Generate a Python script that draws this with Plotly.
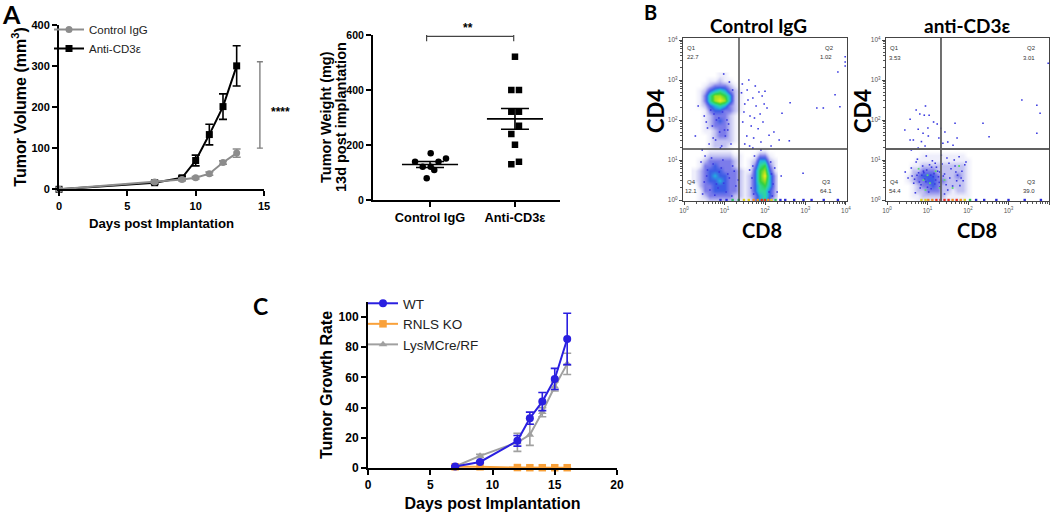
import numpy as np
import plotly.graph_objects as go

W, H = 1050, 512

# ---------- Panel A, growth curves ----------
a_days = [0, 7, 9, 10, 11, 12, 13]
a_ctrl = [0, 18, 24, 28, 38, 65, 88]
a_ctrl_err = [0, 3, 3, 3, 4, 4, 10]
a_anti = [0, 16, 28, 70, 133, 201, 300]
a_anti_err = [0, 3, 4, 13, 25, 31, 49]

# ---------- Panel A, tumor weight ----------
w_labels = ["Control IgG", "Anti-CD3\u03b5"]
w_ctrl_x = [0.824, 0.914, 0.961, 1.008, 1.008, 1.05, 1.1, 1.188]
w_ctrl_y = [139, 121, 79, 170, 121, 109, 139, 151]
w_anti_x = [2.0, 1.957, 2.047, 1.957, 2.047, 2.047, 1.957, 2.0, 2.047, 1.957]
w_anti_y = [521, 400, 400, 321, 321, 270, 240, 201, 139, 130]
w_mean = [129, 295]
w_sem = [11, 38]

# ---------- Panel C ----------
c_days = [7, 9, 12, 13, 14, 15, 16]
c_wt = [1, 4, 18, 33, 44, 59, 85.5]
c_wt_err = [0.5, 0.5, 3.5, 4, 6, 7, 17]
c_ko = [0.8, 0.8, 0.3, 0.2, 0.2, 0.2, 0.2]
c_ko_err = [0, 0, 0, 0, 0, 0, 0]
c_lys = [1, 8, 17, 22, 37, 54, 69]
c_lys_err = [0.5, 1, 6, 7, 3, 3, 7]

# ---------- Panel B, density grids (levels 0-9, rows bottom to top, in decades) ----------
flow_x = [0.25, 0.375, 0.5, 0.625, 0.75, 0.875, 1.0, 1.125, 1.25, 1.375, 1.5, 1.625, 1.75, 1.875, 2.0, 2.125, 2.25]
flow_y = [0, 0.125, 0.25, 0.375, 0.5, 0.625, 0.75, 0.875, 1.0, 1.125, 1.25, 1.375, 1.5, 1.625, 1.75, 1.875,
          2.0, 2.125, 2.25, 2.375, 2.5, 2.625, 2.75, 2.875, 3.0, 3.125]
flow_left = [
    [0, 1, 1, 2, 2, 2, 2, 2, 2, 1, 1, 1, 3, 5, 6, 3, 1],
    [0, 1, 2, 3, 3, 3, 3, 3, 2, 2, 1, 2, 3, 5, 6, 4, 2],
    [0, 1, 3, 3, 4, 4, 4, 3, 3, 2, 1, 2, 4, 6, 6, 4, 2],
    [0, 2, 3, 3, 4, 4, 4, 3, 3, 2, 1, 2, 4, 6, 7, 5, 2],
    [1, 2, 3, 4, 4, 5, 4, 3, 3, 2, 1, 2, 4, 7, 8, 5, 2],
    [1, 2, 3, 4, 5, 4, 4, 3, 3, 2, 1, 2, 4, 7, 9, 5, 2],
    [1, 2, 3, 4, 4, 4, 3, 3, 3, 2, 1, 1, 4, 7, 8, 4, 1],
    [0, 1, 3, 3, 4, 3, 3, 3, 2, 1, 0, 1, 3, 6, 7, 3, 1],
    [0, 1, 2, 3, 3, 3, 3, 3, 2, 1, 0, 1, 2, 5, 5, 2, 1],
    [0, 0, 1, 2, 2, 2, 2, 2, 1, 1, 0, 0, 1, 3, 3, 1, 0],
    [0, 0, 0, 1, 1, 1, 1, 1, 0, 0, 0, 0, 0, 1, 1, 0, 0],
    [0, 0, 0, 1, 2, 2, 2, 1, 0, 0, 0, 0, 0, 0, 0, 0, 0],
    [0, 0, 0, 1, 2, 2, 2, 2, 1, 0, 0, 0, 0, 0, 0, 0, 0],
    [0, 0, 0, 1, 2, 3, 3, 2, 1, 0, 0, 0, 0, 0, 0, 0, 0],
    [0, 0, 1, 1, 2, 3, 3, 2, 1, 0, 0, 0, 0, 0, 0, 0, 0],
    [0, 0, 1, 2, 3, 3, 3, 2, 1, 0, 0, 0, 0, 0, 0, 0, 0],
    [0, 0, 1, 2, 3, 4, 3, 2, 1, 0, 0, 0, 0, 0, 0, 0, 0],
    [0, 0, 1, 2, 3, 3, 3, 2, 1, 0, 0, 0, 0, 0, 0, 0, 0],
    [0, 0, 1, 3, 4, 4, 3, 3, 2, 1, 0, 0, 0, 0, 0, 0, 0],
    [0, 1, 2, 4, 5, 6, 5, 3, 2, 1, 0, 0, 0, 0, 0, 0, 0],
    [0, 1, 3, 6, 8, 9, 8, 5, 2, 1, 0, 0, 0, 0, 0, 0, 0],
    [0, 1, 3, 6, 8, 8, 7, 5, 2, 1, 0, 0, 0, 0, 0, 0, 0],
    [0, 1, 2, 4, 5, 6, 5, 3, 2, 1, 0, 0, 0, 0, 0, 0, 0],
    [0, 0, 1, 2, 3, 3, 3, 2, 1, 0, 0, 0, 0, 0, 0, 0, 0],
    [0, 0, 0, 1, 1, 2, 1, 1, 0, 0, 0, 0, 0, 0, 0, 0, 0],
    [0, 0, 0, 0, 0, 1, 1, 0, 0, 0, 0, 0, 0, 0, 0, 0, 0],
]
flow_right = [
    [0, 0, 0, 0, 1, 1, 1, 1, 1, 1, 1, 1, 1, 1, 0, 0, 0],
    [0, 0, 0, 1, 1, 2, 2, 2, 2, 2, 1, 1, 1, 1, 1, 0, 0],
    [0, 0, 0, 1, 2, 2, 3, 3, 3, 2, 2, 1, 2, 2, 1, 0, 0],
    [0, 0, 0, 1, 2, 3, 3, 4, 3, 2, 2, 2, 2, 2, 1, 0, 0],
    [0, 0, 1, 2, 3, 3, 4, 4, 3, 3, 2, 2, 2, 2, 1, 0, 0],
    [0, 0, 1, 2, 3, 4, 4, 4, 3, 2, 2, 2, 3, 2, 1, 0, 0],
    [0, 0, 0, 2, 2, 3, 3, 3, 2, 2, 2, 2, 2, 2, 1, 0, 0],
    [0, 0, 0, 1, 1, 2, 2, 2, 2, 2, 2, 2, 2, 2, 1, 0, 0],
    [0, 0, 0, 0, 1, 1, 1, 1, 1, 1, 1, 1, 1, 1, 1, 0, 0],
    [0, 0, 0, 0, 0, 1, 1, 1, 1, 1, 1, 1, 1, 1, 0, 0, 0],
    [0] * 17, [0] * 17, [0] * 17, [0] * 17, [0] * 17, [0] * 17,
    [0] * 17, [0] * 17, [0] * 17, [0] * 17, [0] * 17, [0] * 17,
    [0] * 17, [0] * 17, [0] * 17, [0] * 17,
]

# individual events (log10 units)
dots_left_x = [1.42, 1.5, 1.56, 1.63, 1.7, 1.78, 1.85, 1.93, 2.0, 2.05, 1.45, 1.55, 1.66, 1.74, 1.88, 1.98, 1.5, 1.62, 1.72, 1.83,
               1.95, 2.1, 1.48, 1.58, 1.7, 1.9, 2.22, 2.42, 2.62, 2.94, 3.28, 3.44, 3.73, 3.85, 3.8, 3.98, 3.98, 3.98,
               1.44, 1.6, 1.76, 1.9, 2.15, 2.35, 2.6, 0.35, 0.28, 1.12, 1.2, 1.08, 0.45, 0.98, 1.16, 2.4, 2.3,
               0.5, 0.58, 0.66, 0.72, 0.8, 0.88, 0.95, 1.02, 1.1, 0.62, 0.7, 0.78, 0.86, 0.93, 1.0, 0.55, 0.74, 0.9, 1.06,
               0.42, 0.5, 0.58, 0.64, 0.72, 0.8, 0.87, 0.96, 1.04, 1.12, 1.2, 1.28, 0.46, 0.56, 0.68, 0.84, 0.92, 1.08, 1.18, 1.34,
               0.52, 0.76, 0.98, 1.24, 1.66, 1.7, 1.74, 2.1, 2.16, 2.2, 2.14, 1.68, 1.72, 2.24, 2.18, 1.62]
dots_left_y = [2.68, 2.4, 2.75, 2.1, 2.55, 2.35, 2.7, 2.6, 2.72, 2.3, 1.95, 1.6, 1.85, 2.05, 2.15, 2.4, 1.4, 1.35, 1.55, 1.78,
               1.95, 1.62, 2.2, 2.5, 1.3, 1.45, 1.7, 2.17, 2.43, 0.67, 2.3, 2.3, 2.63, 2.33, 3.2, 3.58, 3.45, 3.35,
               2.9, 3.0, 2.85, 1.25, 1.35, 1.5, 1.48, 2.35, 1.6, 2.95, 2.75, 1.75, 1.25, 3.15, 1.4, 0.6, 0.2,
               2.1, 1.8, 2.25, 1.55, 2.0, 1.7, 2.2, 1.6, 1.9, 1.4, 1.85, 1.5, 2.05, 1.35, 1.75, 1.95, 2.15, 1.3, 2.0,
               0.95, 0.45, 0.75, 0.25, 0.9, 0.4, 0.7, 1.0, 0.2, 0.55, 0.85, 0.35, 0.15, 0.6, 1.05, 0.3, 0.8, 0.65, 0.1, 0.5,
               1.1, 0.12, 0.42, 0.72, 0.3, 0.85, 1.1, 0.2, 0.65, 0.4, 0.95, 0.55, 0.15, 0.8, 0.1, 0.75]
dots_right_x = [0.81, 0.92, 1.04, 0.57, 0.77, 1.01, 1.24, 0.44, 0.89, 0.57, 0.65, 0.85, 1.02, 1.43, 1.33, 1.68, 1.5, 1.73, 1.38,
                1.63, 0.77, 0.94, 2.37, 2.52, 3.33, 3.7, 3.78, 3.7, 3.98, 0.6, 0.72, 0.95, 1.15, 1.28,
                0.45, 0.52, 0.6, 0.66, 0.72, 0.78, 0.82, 0.88, 0.93, 0.98, 1.03, 1.08, 1.12, 1.18, 1.22, 1.27, 1.31, 1.36,
                1.42, 1.5, 1.58, 1.66, 1.72, 1.78, 1.85, 1.92, 0.7, 0.8, 0.9, 1.0, 1.1, 1.2, 1.3, 1.42, 1.55, 1.68, 1.8,
                0.62, 0.75, 0.86, 0.97, 1.06, 1.16, 1.34, 1.48, 1.62, 1.74, 1.88, 1.95,
                0.68, 0.84, 0.91, 1.05, 1.14, 1.25, 0.74, 0.96, 1.09, 1.19, 1.29, 1.39, 1.46, 1.53, 1.7, 1.83]
dots_right_y = [2.15, 2.12, 2.12, 2.02, 1.77, 1.8, 1.9, 1.75, 1.67, 1.5, 1.5, 1.46, 1.6, 1.7, 1.79, 1.92, 1.45, 1.55, 1.42,
                1.37, 1.3, 1.35, 1.92, 1.58, 2.5, 2.37, 2.17, 1.67, 3.42, 1.25, 2.25, 2.35, 1.95, 1.55,
                0.7, 0.55, 0.8, 0.42, 0.95, 0.68, 0.3, 0.85, 0.52, 0.75, 0.2, 0.62, 0.98, 0.4, 0.82, 0.58, 0.33, 0.9,
                0.65, 0.25, 0.78, 1.0, 0.48, 1.08, 0.72, 0.88, 0.18, 0.45, 0.72, 0.32, 0.82, 0.5, 0.7, 0.15, 0.55, 0.85, 0.36,
                0.6, 1.02, 0.62, 1.1, 0.42, 0.66, 1.12, 1.05, 0.35, 0.62, 0.48, 0.95,
                0.52, 0.38, 0.68, 0.88, 0.58, 0.72, 0.62, 0.46, 0.28, 0.92, 0.44, 0.6, 0.38, 0.92, 0.7, 0.55]
greens_right_x = [0.78, 0.9, 1.0, 1.06, 1.2, 1.42, 1.62, 1.78, 0.95, 1.3]
greens_right_y = [0.78, 0.5, 0.62, 0.42, 0.72, 0.5, 0.3, 0.85, 0.25, 0.3]

# events piled on the bottom axis
axis_left_x = [0.9, 1.05, 1.2, 1.35, 1.48, 1.6, 1.72, 1.82, 1.92, 2.0, 2.08, 2.16, 2.26, 2.38, 2.5, 2.72, 2.95, 3.15, 3.45, 3.8]
axis_left_level = [0, 0, 1, 1, 2, 2, 3, 3, 4, 4, 3, 2, 1, 0, 0, 0, 0, 0, 0, 0]
axis_right_x = [0.85, 0.95, 1.02, 1.12, 1.22, 1.32, 1.42, 1.52, 1.62, 1.72, 1.82, 1.92, 2.05, 2.2, 2.4, 2.7, 3.0, 3.4, 3.8]
axis_right_level = [2, 2, 3, 3, 4, 4, 4, 4, 3, 4, 3, 2, 1, 0, 0, 0, 0, 0, 0]

quad_left = (1.358, 1.275)
quad_right = (1.333, 1.275)
flow_ticks = [0, 1, 2, 3, 4]
flow_tick_text = ["10<sup>0</sup>", "10<sup>1</sup>", "10<sup>2</sup>", "10<sup>3</sup>", "10<sup>4</sup>"]

SANS = "Liberation Sans"
LATO = "Lato"
GRAY_A = "#8c8c8c"
BLUE = "#2a1fe0"
ORANGE = "#f9a13a"
GRAY_C = "#a0a0a0"
FLOW_SCALE = [[0, "#ffffff"], [1 / 9, "#eeeefb"], [2 / 9, "#c2c2f2"], [3 / 9, "#7c7cea"], [4 / 9, "#3c5ce6"],
              [5 / 9, "#22b4de"], [6 / 9, "#30d89c"], [7 / 9, "#30d040"], [8 / 9, "#a4e020"], [1, "#f4ee20"]]
AXIS_PALETTE = ["#2b2bd8", "#30c060", "#e0d020", "#f09020", "#e83020"]


def xd(a, b):
    return [a / W, b / W]


def yd(top, bottom):
    return [1 - bottom / H, 1 - top / H]


fig = go.Figure()


def curve(x, y, err, name, color, symbol, size, ax, legend, lw=2):
    fig.add_trace(go.Scatter(
        x=x, y=y, name=name, mode="lines+markers", xaxis=f"x{ax}", yaxis=f"y{ax}",
        line=dict(color=color, width=lw), marker=dict(color=color, symbol=symbol, size=size),
        error_y=dict(type="data", array=err, color=color, thickness=1.6, width=4),
        cliponaxis=False, legend=legend, legendgroup=name))


curve(a_days, a_anti, a_anti_err, "Anti-CD3\u03b5", "#000000", "square", 7, 1, "legend")
curve(a_days, a_ctrl, a_ctrl_err, "Control IgG", GRAY_A, "circle", 7, 1, "legend")

fig.add_trace(go.Scatter(x=w_ctrl_x, y=w_ctrl_y, mode="markers", xaxis="x2", yaxis="y2", showlegend=False,
                         marker=dict(color="#000000", symbol="circle", size=6.5), cliponaxis=False))
fig.add_trace(go.Scatter(x=w_anti_x, y=w_anti_y, mode="markers", xaxis="x2", yaxis="y2", showlegend=False,
                         marker=dict(color="#000000", symbol="square", size=6.5), cliponaxis=False))
fig.add_trace(go.Scatter(x=[1, 2], y=w_mean, mode="markers", xaxis="x2", yaxis="y2", showlegend=False,
                         marker=dict(size=1, color="#000000"),
                         error_x=dict(type="constant", value=0.33, width=0, thickness=1.6, color="#000000"),
                         error_y=dict(type="data", array=w_sem, width=14, thickness=1.6, color="#000000")))

curve(c_days, c_lys, c_lys_err, "LysMCre/RF", GRAY_C, "triangle-up", 7.5, 3, "legend2")
curve(c_days, c_ko, c_ko_err, "RNLS KO", ORANGE, "square", 7.5, 3, "legend2")
curve(c_days, c_wt, c_wt_err, "WT", BLUE, "circle", 8, 3, "legend2")

for ax, grid, dx, dy in [(4, flow_left, dots_left_x, dots_left_y), (5, flow_right, dots_right_x, dots_right_y)]:
    fig.add_trace(go.Heatmap(x=flow_x, y=flow_y, z=grid, xaxis=f"x{ax}", yaxis=f"y{ax}", zmin=0, zmax=9,
                             colorscale=FLOW_SCALE, showscale=False, zsmooth="best", hoverinfo="skip"))
    fig.add_trace(go.Scatter(x=dx, y=dy, mode="markers", xaxis=f"x{ax}", yaxis=f"y{ax}", showlegend=False,
                             marker=dict(color="#3a3ae0", size=1.6, symbol="square", line=dict(width=0))))
fig.add_trace(go.Scatter(x=greens_right_x, y=greens_right_y, mode="markers", xaxis="x5", yaxis="y5", showlegend=False,
                         marker=dict(color="#60d870", size=1.8, symbol="square", line=dict(width=0))))
for ax, px, lv in [(4, axis_left_x, axis_left_level), (5, axis_right_x, axis_right_level)]:
    fig.add_trace(go.Scatter(x=px, y=[0.0] * len(px), mode="markers", xaxis=f"x{ax}", yaxis=f"y{ax}", showlegend=False,
                             cliponaxis=False,
                             marker=dict(color=[AXIS_PALETTE[i] for i in lv], size=2.4, symbol="square", line=dict(width=0))))

minor_vals = [float(d + np.log10(m)) for d in range(4) for m in range(2, 10)]


def graph_axis(domain, rng, size, **kw):
    base = dict(domain=domain, range=rng, showgrid=False, zeroline=False, showline=True, linecolor="#000000",
                linewidth=2, ticks="outside", ticklen=5, tickwidth=1.8, tickcolor="#000000",
                tickfont=dict(family=SANS, size=size, color="#000000", weight="bold"))
    base.update(kw)
    return base


def title(text, size, standoff):
    return dict(text=text, font=dict(family=SANS, size=size, color="#000000", weight="bold"), standoff=standoff)


def flow_axis(domain, rng, anchor):
    return dict(domain=domain, range=rng, anchor=anchor, showgrid=False, zeroline=False, showline=True, mirror=True,
                linecolor="#444444", linewidth=1.2, ticks="outside", ticklen=3, tickwidth=1, tickcolor="#444444",
                tickvals=flow_ticks, ticktext=flow_tick_text,
                tickfont=dict(family=SANS, size=6.5, color="#555555"),
                minor=dict(tickvals=minor_vals, ticks="outside", ticklen=2, tickwidth=0.7, tickcolor="#555555"))


fig.update_layout(
    width=W, height=H, margin=dict(l=0, r=0, t=0, b=0, autoexpand=False), paper_bgcolor="#ffffff",
    plot_bgcolor="rgba(0,0,0,0)",
    xaxis=graph_axis(xd(59, 264), [0, 15], 11, anchor="y", tickvals=[0, 5, 10, 15],
                     title=title("Days post Implantation", 13.2, 8)),
    yaxis=graph_axis(yd(24.7, 189.3), [0, 400], 11, anchor="x", tickvals=[0, 100, 200, 300, 400],
                     title=title("Tumor Volume (mm<sup>3</sup>)", 16, 1)),
    xaxis2=graph_axis(xd(373, 560), [0.329, 2.53], 12.8, anchor="y2", tickvals=[1, 2], ticktext=w_labels),
    yaxis2=graph_axis(yd(35, 200), [0, 600], 10.5, anchor="x2", tickvals=[0, 200, 400, 600]),
    xaxis3=graph_axis(xd(368, 617), [0, 20], 12, anchor="y3", tickvals=[0, 5, 10, 15, 20],
                      title=title("Days post Implantation", 16, 6)),
    yaxis3=graph_axis(yd(302, 468), [0, 110], 12, anchor="x3", tickvals=[0, 20, 40, 60, 80, 100],
                      title=title("Tumor Growth Rate", 16, 2)),
    xaxis4=flow_axis(xd(683, 847), [-0.025, 4.025], "y4"),
    yaxis4=flow_axis(yd(38, 201), [-0.025, 4.05], "x4"),
    xaxis5=flow_axis(xd(886, 1049), [-0.025, 4.0], "y5"),
    yaxis5=flow_axis(yd(38, 201), [-0.025, 4.05], "x5"),
    legend=dict(x=49 / W, y=1 - 15 / H, xanchor="left", yanchor="top", traceorder="reversed", tracegroupgap=8,
                bgcolor="rgba(0,0,0,0)", font=dict(family=SANS, size=11.5, color="#222222")),
    legend2=dict(x=363 / W, y=1 - 288 / H, xanchor="left", yanchor="top", traceorder="reversed", tracegroupgap=6,
                 bgcolor="rgba(0,0,0,0)", font=dict(family=SANS, size=13.5, color="#222222")),
)

shape_list = []


def seg(xref, yref, x0, y0, x1, y1, color, width):
    shape_list.append(dict(type="line", xref=xref, yref=yref, x0=x0, y0=y0, x1=x1, y1=y1,
                           line=dict(color=color, width=width)))


seg("x", "y", 14.7, 100, 14.7, 310, "#808080", 1.4)
seg("x", "y", 14.48, 100, 14.92, 100, "#808080", 1.4)
seg("x", "y", 14.48, 310, 14.92, 310, "#808080", 1.4)
seg("x2", "y2", 0.96, 595, 1.985, 595, "#444444", 1.2)
seg("x2", "y2", 0.96, 577, 0.96, 610, "#444444", 1.2)
seg("x2", "y2", 1.985, 577, 1.985, 610, "#444444", 1.2)
for ax, (qx, qy), col, lw in [(4, quad_left, "#444444", 1.4), (5, quad_right, "#606060", 1.8)]:
    seg(f"x{ax}", f"y{ax}", qx, -0.025, qx, 4.05, col, lw)
    seg(f"x{ax}", f"y{ax}", -0.025, qy, 4.025, qy, col, lw)
fig.update_layout(shapes=shape_list)


def note(px, py, text, size, family=SANS, color="#000000", weight="normal", angle=0):
    return dict(xref="paper", yref="paper", x=px / W, y=1 - py / H, text=text, showarrow=False, xanchor="center",
                yanchor="middle", textangle=angle, font=dict(family=family, size=size, color=color, weight=weight))


notes = [
    note(11, 14, "A", 25, LATO, weight="bold"),
    note(650, 12, "B", 20, LATO, weight="bold"),
    note(260, 306, "C", 23, LATO, weight="bold"),
    note(280, 112, "****", 12, weight="bold"),
    note(468, 28, "**", 12, weight="bold"),
    note(326, 117, "Tumor Weight (mg)", 14.5, weight="bold", angle=-90),
    note(341, 117, "13d post implantation", 14.5, weight="bold", angle=-90),
    note(758, 25, "Control IgG", 19, LATO, weight="bold"),
    note(967, 25, "anti-CD3\u03b5", 19, LATO, weight="bold"),
    note(655, 111, "CD4", 22, LATO, weight="bold", angle=-90),
    note(862, 111, "CD4", 22, LATO, weight="bold", angle=-90),
    note(762, 230, "CD8", 20, LATO, weight="bold"),
    note(977, 230, "CD8", 20, LATO, weight="bold"),
]
for px, py, t in [(691, 48, "Q1"), (693, 57, "22.7"), (829, 48, "Q2"), (826, 57, "1.02"),
                  (691, 182, "Q4"), (691, 191, "12.1"), (826, 182, "Q3"), (826, 191, "64.1"),
                  (894, 48, "Q1"), (895, 58, "3.53"), (1031, 48, "Q2"), (1029, 58, "3.01"),
                  (894, 182, "Q4"), (895, 191, "54.4"), (1031, 182, "Q3"), (1029, 191, "39.0")]:
    notes.append(note(px, py, t, 6, color="#333333"))
fig.update_layout(annotations=notes)

fig.write_html("out.html", config=dict(displayModeBar=False), post_script="document.body.style.margin='0';")
